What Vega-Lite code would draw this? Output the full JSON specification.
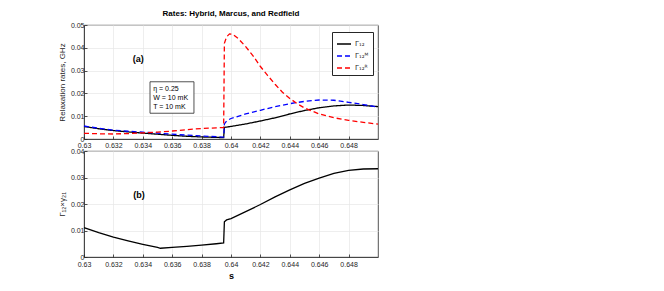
{
  "$schema": "https://vega.github.io/schema/vega-lite/v6.json",
  "background": "white",
  "padding": {"left": 57, "top": 9, "right": 5, "bottom": 5},
  "spacing": -3,
  "config": {
    "font": "Liberation Sans",
    "view": {"stroke": "#262626", "strokeWidth": 0.8},
    "axis": {
      "labelFont": "Liberation Sans", "titleFont": "Liberation Sans",
      "labelFontSize": 7, "titleFontSize": 8, "titleFontWeight": "normal",
      "labelColor": "#262626", "titleColor": "#262626",
      "domainColor": "#262626", "domainWidth": 0.8,
      "tickColor": "#262626", "tickWidth": 0.8, "tickSize": -3,
      "gridColor": "#e6e6e6", "gridWidth": 0.7, "labelPadding": 3, "titlePadding": 4,
      "labelOverlap": false, "labelFlush": false, "labelBound": false
    },
    "axisX": {"labelPadding": 5}
  },
  "datasets": {
    "rates": [
      {"s": 0.630, "rate": 0.0055, "series": "Γ₁₂"},
      {"s": 0.631, "rate": 0.0045, "series": "Γ₁₂"},
      {"s": 0.632, "rate": 0.0037, "series": "Γ₁₂"},
      {"s": 0.633, "rate": 0.0031, "series": "Γ₁₂"},
      {"s": 0.634, "rate": 0.0026, "series": "Γ₁₂"},
      {"s": 0.635, "rate": 0.0021, "series": "Γ₁₂"},
      {"s": 0.636, "rate": 0.0016, "series": "Γ₁₂"},
      {"s": 0.637, "rate": 0.0012, "series": "Γ₁₂"},
      {"s": 0.638, "rate": 0.0009, "series": "Γ₁₂"},
      {"s": 0.639, "rate": 0.0007, "series": "Γ₁₂"},
      {"s": 0.6395, "rate": 0.0006, "series": "Γ₁₂"},
      {"s": 0.63955, "rate": 0.0051, "series": "Γ₁₂"},
      {"s": 0.640, "rate": 0.0055, "series": "Γ₁₂"},
      {"s": 0.641, "rate": 0.0066, "series": "Γ₁₂"},
      {"s": 0.642, "rate": 0.0079, "series": "Γ₁₂"},
      {"s": 0.643, "rate": 0.0093, "series": "Γ₁₂"},
      {"s": 0.644, "rate": 0.0110, "series": "Γ₁₂"},
      {"s": 0.645, "rate": 0.0125, "series": "Γ₁₂"},
      {"s": 0.646, "rate": 0.0137, "series": "Γ₁₂"},
      {"s": 0.647, "rate": 0.0145, "series": "Γ₁₂"},
      {"s": 0.648, "rate": 0.0149, "series": "Γ₁₂"},
      {"s": 0.649, "rate": 0.0147, "series": "Γ₁₂"},
      {"s": 0.650, "rate": 0.0142, "series": "Γ₁₂"},
      {"s": 0.630, "rate": 0.0057, "series": "Γ₁₂ᴹ"},
      {"s": 0.631, "rate": 0.0047, "series": "Γ₁₂ᴹ"},
      {"s": 0.632, "rate": 0.0039, "series": "Γ₁₂ᴹ"},
      {"s": 0.633, "rate": 0.0034, "series": "Γ₁₂ᴹ"},
      {"s": 0.634, "rate": 0.0030, "series": "Γ₁₂ᴹ"},
      {"s": 0.635, "rate": 0.0026, "series": "Γ₁₂ᴹ"},
      {"s": 0.636, "rate": 0.0021, "series": "Γ₁₂ᴹ"},
      {"s": 0.637, "rate": 0.0017, "series": "Γ₁₂ᴹ"},
      {"s": 0.638, "rate": 0.0013, "series": "Γ₁₂ᴹ"},
      {"s": 0.639, "rate": 0.0010, "series": "Γ₁₂ᴹ"},
      {"s": 0.6395, "rate": 0.0008, "series": "Γ₁₂ᴹ"},
      {"s": 0.63955, "rate": 0.0066, "series": "Γ₁₂ᴹ"},
      {"s": 0.6397, "rate": 0.0079, "series": "Γ₁₂ᴹ"},
      {"s": 0.640, "rate": 0.0090, "series": "Γ₁₂ᴹ"},
      {"s": 0.641, "rate": 0.0110, "series": "Γ₁₂ᴹ"},
      {"s": 0.642, "rate": 0.0126, "series": "Γ₁₂ᴹ"},
      {"s": 0.643, "rate": 0.0142, "series": "Γ₁₂ᴹ"},
      {"s": 0.644, "rate": 0.0155, "series": "Γ₁₂ᴹ"},
      {"s": 0.645, "rate": 0.0165, "series": "Γ₁₂ᴹ"},
      {"s": 0.646, "rate": 0.0171, "series": "Γ₁₂ᴹ"},
      {"s": 0.647, "rate": 0.0170, "series": "Γ₁₂ᴹ"},
      {"s": 0.648, "rate": 0.0161, "series": "Γ₁₂ᴹ"},
      {"s": 0.649, "rate": 0.0151, "series": "Γ₁₂ᴹ"},
      {"s": 0.650, "rate": 0.0140, "series": "Γ₁₂ᴹ"},
      {"s": 0.630, "rate": 0.0025, "series": "Γ₁₂ᴿ"},
      {"s": 0.631, "rate": 0.0023, "series": "Γ₁₂ᴿ"},
      {"s": 0.632, "rate": 0.0022, "series": "Γ₁₂ᴿ"},
      {"s": 0.633, "rate": 0.0024, "series": "Γ₁₂ᴿ"},
      {"s": 0.634, "rate": 0.0027, "series": "Γ₁₂ᴿ"},
      {"s": 0.635, "rate": 0.0030, "series": "Γ₁₂ᴿ"},
      {"s": 0.636, "rate": 0.0035, "series": "Γ₁₂ᴿ"},
      {"s": 0.637, "rate": 0.0041, "series": "Γ₁₂ᴿ"},
      {"s": 0.638, "rate": 0.0046, "series": "Γ₁₂ᴿ"},
      {"s": 0.639, "rate": 0.0049, "series": "Γ₁₂ᴿ"},
      {"s": 0.6395, "rate": 0.0050, "series": "Γ₁₂ᴿ"},
      {"s": 0.63955, "rate": 0.0420, "series": "Γ₁₂ᴿ"},
      {"s": 0.6397, "rate": 0.0448, "series": "Γ₁₂ᴿ"},
      {"s": 0.6399, "rate": 0.0461, "series": "Γ₁₂ᴿ"},
      {"s": 0.6401, "rate": 0.0460, "series": "Γ₁₂ᴿ"},
      {"s": 0.6405, "rate": 0.0440, "series": "Γ₁₂ᴿ"},
      {"s": 0.641, "rate": 0.0405, "series": "Γ₁₂ᴿ"},
      {"s": 0.6415, "rate": 0.0365, "series": "Γ₁₂ᴿ"},
      {"s": 0.642, "rate": 0.0318, "series": "Γ₁₂ᴿ"},
      {"s": 0.6425, "rate": 0.0278, "series": "Γ₁₂ᴿ"},
      {"s": 0.643, "rate": 0.0240, "series": "Γ₁₂ᴿ"},
      {"s": 0.6435, "rate": 0.0205, "series": "Γ₁₂ᴿ"},
      {"s": 0.644, "rate": 0.0178, "series": "Γ₁₂ᴿ"},
      {"s": 0.6445, "rate": 0.0155, "series": "Γ₁₂ᴿ"},
      {"s": 0.645, "rate": 0.0136, "series": "Γ₁₂ᴿ"},
      {"s": 0.646, "rate": 0.0110, "series": "Γ₁₂ᴿ"},
      {"s": 0.647, "rate": 0.0093, "series": "Γ₁₂ᴿ"},
      {"s": 0.648, "rate": 0.0082, "series": "Γ₁₂ᴿ"},
      {"s": 0.649, "rate": 0.0073, "series": "Γ₁₂ᴿ"},
      {"s": 0.650, "rate": 0.0065, "series": "Γ₁₂ᴿ"}
    ],
    "ratio": [
      {"s": 0.630, "g": 0.0111},
      {"s": 0.631, "g": 0.0092},
      {"s": 0.632, "g": 0.0075},
      {"s": 0.633, "g": 0.0061},
      {"s": 0.634, "g": 0.0048},
      {"s": 0.635, "g": 0.0036},
      {"s": 0.6352, "g": 0.0033},
      {"s": 0.636, "g": 0.0036},
      {"s": 0.637, "g": 0.0040},
      {"s": 0.638, "g": 0.0045},
      {"s": 0.639, "g": 0.0050},
      {"s": 0.6395, "g": 0.0053},
      {"s": 0.63955, "g": 0.0133},
      {"s": 0.6397, "g": 0.0140},
      {"s": 0.640, "g": 0.0145},
      {"s": 0.641, "g": 0.0171},
      {"s": 0.642, "g": 0.0198},
      {"s": 0.643, "g": 0.0227},
      {"s": 0.644, "g": 0.0253},
      {"s": 0.645, "g": 0.0278},
      {"s": 0.646, "g": 0.0298},
      {"s": 0.647, "g": 0.0316},
      {"s": 0.648, "g": 0.0327},
      {"s": 0.649, "g": 0.0332},
      {"s": 0.650, "g": 0.0333}
    ]
  },
  "vconcat": [
    {
      "title": {"text": "Rates: Hybrid, Marcus, and Redfield", "fontSize": 8, "fontWeight": "bold", "color": "#000000", "frame": "group", "offset": 3, "font": "Liberation Sans"},
      "width": 294,
      "height": 114,
      "layer": [
        {
          "data": {"name": "rates"},
          "mark": {"type": "line", "strokeWidth": 1.3},
          "encoding": {
            "x": {"field": "s", "type": "quantitative",
              "scale": {"domain": [0.63, 0.65], "nice": false, "zero": false},
              "axis": {"title": null, "values": [0.63, 0.632, 0.634, 0.636, 0.638, 0.64, 0.642, 0.644, 0.646, 0.648], "tickCount": 30, "format": ".3~f", "labelOverlap": false, "labelFlush": false, "labelPadding": 5}},
            "y": {"field": "rate", "type": "quantitative",
              "scale": {"domain": [0, 0.05], "nice": false},
              "axis": {"title": "Relaxation rates, GHz", "values": [0, 0.01, 0.02, 0.03, 0.04, 0.05], "tickCount": 30, "format": ".2~f", "labelOverlap": false, "labelFlush": false}},
            "color": {"field": "series", "type": "nominal",
              "scale": {"domain": ["Γ₁₂", "Γ₁₂ᴹ", "Γ₁₂ᴿ"], "range": ["#000000", "#0000ff", "#ff0000"]},
              "legend": {"title": null, "orient": "none", "legendX": 248, "legendY": 7, "strokeColor": "#262626", "fillColor": "white", "padding": 4, "symbolType": "stroke", "symbolSize": 196, "symbolStrokeWidth": 1.5, "labelFontSize": 7, "labelFont": "DejaVu Sans", "labelColor": "#262626", "labelOffset": 3, "rowPadding": 1}},
            "strokeDash": {"field": "series", "type": "nominal",
              "scale": {"domain": ["Γ₁₂", "Γ₁₂ᴹ", "Γ₁₂ᴿ"], "range": [[1, 0], [5, 3], [5, 3]]},
              "legend": {"title": null, "orient": "none", "legendX": 248, "legendY": 7, "strokeColor": "#262626", "fillColor": "white", "padding": 4, "symbolType": "stroke", "symbolSize": 196, "symbolStrokeWidth": 1.5, "labelFontSize": 7, "labelFont": "DejaVu Sans", "labelColor": "#262626", "labelOffset": 3, "rowPadding": 1}}
          }
        },
        {
          "data": {"values": [{"x1": 0.63449, "x2": 0.63748, "y1": 0.0113, "y2": 0.0251}]},
          "mark": {"type": "rect", "fill": "white", "stroke": "#262626", "strokeWidth": 0.8},
          "encoding": {
            "x": {"field": "x1", "type": "quantitative"},
            "x2": {"field": "x2"},
            "y": {"field": "y1", "type": "quantitative"},
            "y2": {"field": "y2"}
          }
        },
        {
          "data": {"values": [
            {"x": 0.63471, "y": 0.0219, "t": "η = 0.25"},
            {"x": 0.63471, "y": 0.0178, "t": "W = 10 mK"},
            {"x": 0.63471, "y": 0.0139, "t": "T = 10 mK"}
          ]},
          "mark": {"type": "text", "align": "left", "baseline": "middle", "fontSize": 7, "color": "#000000", "font": "Liberation Sans"},
          "encoding": {
            "x": {"field": "x", "type": "quantitative"},
            "y": {"field": "y", "type": "quantitative"},
            "text": {"field": "t"}
          }
        },
        {
          "data": {"values": [{"x": 0.63369, "y": 0.0351, "t": "(a)"}]},
          "mark": {"type": "text", "align": "center", "baseline": "middle", "fontSize": 9, "fontWeight": "bold", "color": "#000000", "font": "Liberation Sans"},
          "encoding": {
            "x": {"field": "x", "type": "quantitative"},
            "y": {"field": "y", "type": "quantitative"},
            "text": {"field": "t"}
          }
        }
      ]
    },
    {
      "width": 294,
      "height": 106,
      "layer": [
        {
          "data": {"name": "ratio"},
          "mark": {"type": "line", "strokeWidth": 1.3, "color": "#000000"},
          "encoding": {
            "x": {"field": "s", "type": "quantitative",
              "scale": {"domain": [0.63, 0.65], "nice": false, "zero": false},
              "axis": {"title": "s", "titleFontWeight": "bold", "titleFontSize": 9, "titleColor": "#000000", "titlePadding": 4, "values": [0.63, 0.632, 0.634, 0.636, 0.638, 0.64, 0.642, 0.644, 0.646, 0.648], "tickCount": 30, "format": ".3~f", "labelOverlap": false, "labelFlush": false, "labelPadding": 6}},
            "y": {"field": "g", "type": "quantitative",
              "scale": {"domain": [0, 0.04], "nice": false},
              "axis": {"title": "Γ₁₂×γ₂₁", "values": [0, 0.01, 0.02, 0.03, 0.04], "tickCount": 30, "format": ".2~f", "labelOverlap": false, "labelFlush": false}}
          }
        },
        {
          "data": {"values": [{"x": 0.63374, "y": 0.0233, "t": "(b)"}]},
          "mark": {"type": "text", "align": "center", "baseline": "middle", "fontSize": 9, "fontWeight": "bold", "color": "#000000", "font": "Liberation Sans"},
          "encoding": {
            "x": {"field": "x", "type": "quantitative"},
            "y": {"field": "y", "type": "quantitative"},
            "text": {"field": "t"}
          }
        }
      ]
    }
  ]
}
